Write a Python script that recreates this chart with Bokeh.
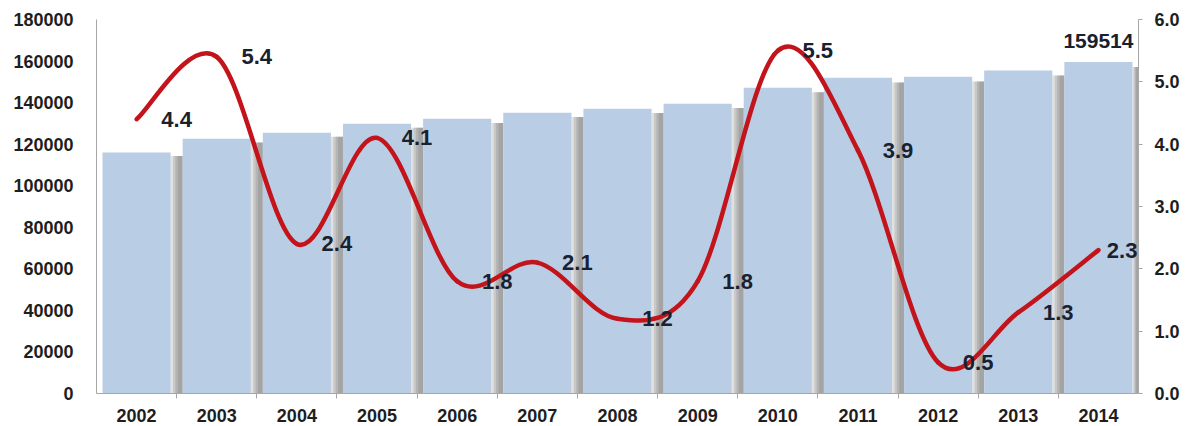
import numpy as np
from bokeh.plotting import figure
from bokeh.models import (Range1d, LinearAxis, FixedTicker, ColumnDataSource,
                          LabelSet, Label, NumeralTickFormatter)
from bokeh.core.properties import value
from bokeh.embed import file_html
from bokeh.resources import INLINE

# ---- data ----
years = [2002, 2003, 2004, 2005, 2006, 2007, 2008, 2009, 2010, 2011, 2012, 2013, 2014]
year_labels = ["2002", "2003", "2004", "2005", "2006", "2007", "2008",
               "2009", "2010", "2011", "2012", "2013", "2014"]
totals = [116000, 122600, 125500, 129800, 132200, 135100, 137100,
          139500, 147200, 152000, 152500, 155400, 159514]
growth = [4.4, 5.4, 2.4, 4.1, 1.8, 2.1, 1.2, 1.8, 5.5, 3.9, 0.5, 1.3, 2.3]
growth_labels = ["4.4", "5.4", "2.4", "4.1", "1.8", "2.1", "1.2",
                 "1.8", "5.5", "3.9", "0.5", "1.3", "2.3"]
left_ticks = [0, 20000, 40000, 60000, 80000, 100000, 120000, 140000, 160000, 180000]
right_ticks = [0, 1, 2, 3, 4, 5, 6]

FONT = "Liberation Sans"
TXT = "#1e1e1e"
LBL = "#19212e"
AXIS = "#a6a6a6"
BAR_W = 0.85

p = figure(width=1183, height=426,
           x_range=Range1d(years[0] - 0.5, years[-1] + 0.5),
           y_range=Range1d(left_ticks[0], left_ticks[-1]),
           output_backend="svg", toolbar_location=None,
           min_border_left=96, min_border_right=45,
           min_border_top=19, min_border_bottom=33)
p.extra_y_ranges = {"pct": Range1d(right_ticks[0], right_ticks[-1])}
p.outline_line_color = None
p.xgrid.visible = False
p.ygrid.visible = False
p.background_fill_color = "white"
p.border_fill_color = "white"

src = ColumnDataSource(dict(x=years, top=totals, g=growth, gl=growth_labels))

# soft bar shadows filling the gap to the right of each bar
half = BAR_W / 2
for d in [0.0, 0.03, 0.06, 0.09]:
    p.quad(left=[v + half + d for v in years[:-1]] + [years[-1] + half + d * 0.5],
           right=[v + 1 - half for v in years[:-1]] + [years[-1] + 0.5],
           top=[t * 0.985 for t in totals], bottom=0,
           fill_color="#5e5e5e", fill_alpha=0.19, line_color=None)
# bars
p.vbar(x="x", top="top", width=BAR_W, source=src,
       fill_color="#b9cde5", line_color=None)

# smoothed growth line (cubic Bezier segments through the data points)
xs = np.array(years, dtype=float)
gs = np.array(growth, dtype=float)
xp = np.concatenate([[xs[0]], xs, [xs[-1]]])
gp = np.concatenate([[gs[0]], gs, [gs[-1]]])
n = len(xs)
bz = dict(x0=[], y0=[], x1=[], y1=[], cx0=[], cy0=[], cx1=[], cy1=[])
for i in range(n - 1):
    j = i + 1
    bz["x0"].append(xp[j]); bz["y0"].append(gp[j])
    bz["x1"].append(xp[j + 1]); bz["y1"].append(gp[j + 1])
    bz["cx0"].append(xp[j] + (xp[j + 1] - xp[j - 1]) / 6)
    bz["cy0"].append(gp[j] + (gp[j + 1] - gp[j - 1]) / 6)
    bz["cx1"].append(xp[j + 1] - (xp[j + 2] - xp[j]) / 6)
    bz["cy1"].append(gp[j + 1] - (gp[j + 2] - gp[j]) / 6)
p.bezier(x0="x0", y0="y0", x1="x1", y1="y1", cx0="cx0", cy0="cy0",
         cx1="cx1", cy1="cy1", source=ColumnDataSource(bz),
         line_color="#c4141b", line_width=4.5, line_cap="round",
         y_range_name="pct")

# data labels
lab_src = ColumnDataSource(dict(x=years[:-1], g=growth[:-1], gl=growth_labels[:-1]))
p.add_layout(LabelSet(x="x", y="g", text="gl", source=lab_src, y_range_name="pct",
                      x_offset=40, text_align="center", text_baseline="middle",
                      text_font=value(FONT), text_font_style="bold",
                      text_font_size="22px", text_color=LBL))
# last label kept just inside the plot frame (annotations are clipped to it)
p.add_layout(Label(x=years[-1], y=growth[-1], text=growth_labels[-1],
                   y_range_name="pct", x_offset=39,
                   text_align="right", text_baseline="middle",
                   text_font=FONT, text_font_style="bold",
                   text_font_size="22px", text_color=LBL))
p.add_layout(Label(x=years[-1], y=totals[-1], text=str(totals[-1]),
                   y_offset=14, text_align="center", text_baseline="bottom",
                   text_font=FONT, text_font_style="bold",
                   text_font_size="21px", text_color=LBL))

# axes
xa = p.xaxis[0]
xa.ticker = FixedTicker(ticks=years, minor_ticks=[v + 0.5 for v in years[:-1]])
xa.major_label_overrides = {y: l for y, l in zip(years, year_labels)}
xa.major_tick_out = 0
xa.major_tick_in = 0
xa.minor_tick_out = 5
xa.minor_tick_in = 0
xa.minor_tick_line_color = AXIS
xa.axis_line_color = AXIS
xa.major_label_standoff = 10

ya = p.yaxis[0]
ya.ticker = FixedTicker(ticks=left_ticks)
ya.formatter = NumeralTickFormatter(format="0")
ya.major_tick_out = 0
ya.major_tick_in = 0
ya.minor_tick_line_color = None
ya.axis_line_color = AXIS
ya.major_label_standoff = 23

ra = LinearAxis(y_range_name="pct", ticker=FixedTicker(ticks=right_ticks),
                formatter=NumeralTickFormatter(format="0.0"))
ra.major_tick_out = 4
ra.major_tick_in = 0
ra.major_tick_line_color = AXIS
ra.minor_tick_line_color = None
ra.axis_line_color = AXIS
ra.major_label_standoff = 12
p.add_layout(ra, "right")

for ax in (xa, ya, ra):
    ax.major_label_text_font = FONT
    ax.major_label_text_font_style = "bold"
    ax.major_label_text_font_size = "18px"
    ax.major_label_text_color = TXT

open("out.html", "w").write(file_html(p, INLINE))
